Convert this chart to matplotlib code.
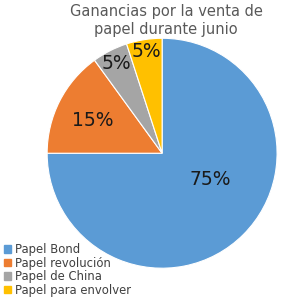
import matplotlib.pyplot as plt
import matplotlib.patches as mpatches
import numpy as np

plt.rcParams['font.family'] = ['DejaVu Sans']

LABELS = ["Papel Bond", "Papel revolución", "Papel de China", "Papel para envolver"]
VALUES = [75, 15, 5, 5]
COLORS = ["#5B9BD5", "#ED7D31", "#A5A5A5", "#FFC000"]

# label placement (fraction of radius, angle in degrees)
LABEL_POS = [(0.48, -29), (0.67, 155), (0.88, 117), (0.90, 99)]

fig = plt.figure(figsize=(2.98, 2.99), dpi=100)
ax = fig.add_axes([0.158, 0.103, 0.772, 0.769])

wedges, _ = ax.pie(VALUES, colors=COLORS, startangle=90, counterclock=False,
                   wedgeprops=dict(edgecolor="white", linewidth=0.8))
ax.set_xlim(-1, 1)
ax.set_ylim(-1, 1)
ax.set_aspect("equal")

for v, (r, a) in zip(VALUES, LABEL_POS):
    t = np.deg2rad(a)
    ax.text(r * np.cos(t), r * np.sin(t), f"{v}%", ha="center", va="center",
            fontsize=13.5, color="#1a1a1a")

fig.text(0.557, 0.932, "Ganancias por la venta de\npapel durante junio",
         ha="center", va="center", fontsize=10.5, color="#595959", linespacing=1.3)

handles = [mpatches.Patch(color=c, label=l) for c, l in zip(COLORS, LABELS)]
fig.legend(handles=handles, loc="lower left", bbox_to_anchor=(-0.022, -0.028),
           frameon=False, fontsize=8.4, handlelength=0.6, handleheight=0.6,
           handletextpad=0.35, labelspacing=0.05, labelcolor="#404040")

fig.savefig("out.png", dpi=100)
